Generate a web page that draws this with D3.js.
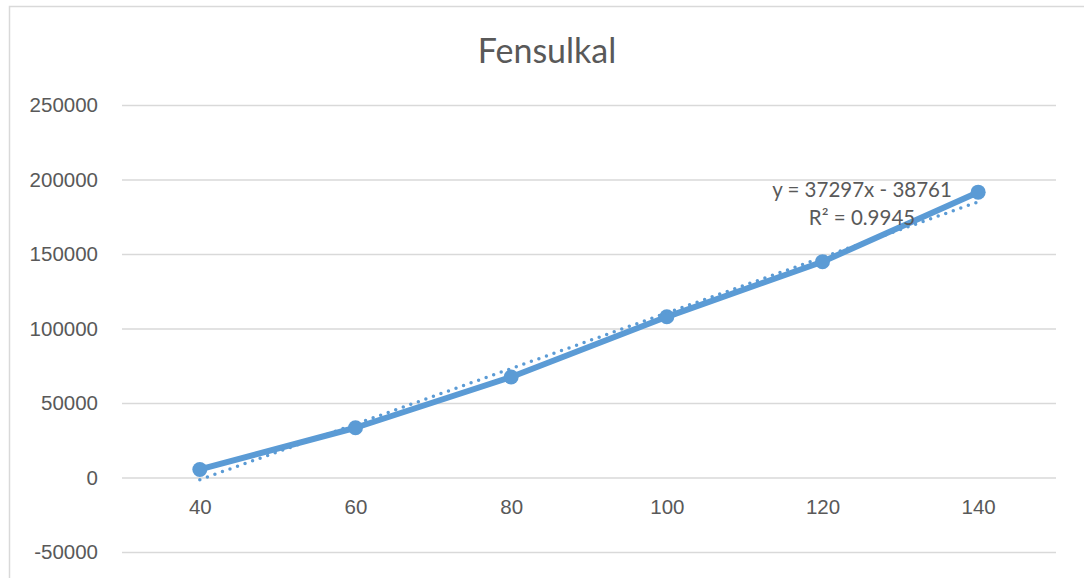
<!DOCTYPE html>
<html>
<head>
<meta charset="utf-8">
<script src="https://cdn.jsdelivr.net/npm/d3@7"></script>
<style>
  html, body { margin: 0; padding: 0; background: #fff; }
  svg { display: block; font-family: Lato, "Open Sans", sans-serif; }
</style>
</head>
<body>
<svg id="chart" width="1084" height="578"></svg>
<script>
// Concentration levels and measured response
const categories = [40, 60, 80, 100, 120, 140];
const values = [5400, 33400, 67450, 107850, 144800, 191500];
const yTicks = [-50000, 0, 50000, 100000, 150000, 200000, 250000];

// Linear trendline (x = point index 1..n)
const trendSlope = 37297;
const trendIntercept = -38761;
const trendR2 = 0.9945;

const chartTitle = "Fensulkal";

const svg = d3.select("#chart");
const W = 1084, H = 578;
const plot = { left: 122, right: 1056, top: 105, bottom: 552 };
const textColor = "#595959";
const gridColor = "#D9D9D9";
const seriesColor = "#5B9BD5";

// Chart frame
svg.append("rect")
  .attr("x", 9.5).attr("y", 6.5)
  .attr("width", W + 20).attr("height", H + 20)
  .attr("fill", "#fff")
  .attr("stroke", gridColor).attr("stroke-width", 1.5);

const x = d3.scalePoint()
  .domain(categories)
  .range([plot.left, plot.right])
  .padding(0.5);

const y = d3.scaleLinear()
  .domain([-50000, 250000])
  .range([plot.bottom, plot.top]);

// Horizontal gridlines
const yAxis = d3.axisLeft(y)
  .tickValues(yTicks)
  .tickSize(-(plot.right - plot.left))
  .tickPadding(24)
  .tickFormat(d => String(d));

const gy = svg.append("g")
  .attr("transform", `translate(${plot.left},0)`)
  .call(yAxis);
gy.select(".domain").remove();
gy.selectAll(".tick line")
  .attr("stroke", gridColor).attr("stroke-width", 1.5);
gy.selectAll(".tick text")
  .attr("fill", textColor)
  .attr("font-size", 20.5);

// Category axis labels, placed under the zero line
const xAxis = d3.axisBottom(x).tickSize(0).tickPadding(22);
const gx = svg.append("g")
  .attr("transform", `translate(0,${y(0)})`)
  .call(xAxis);
gx.select(".domain").remove();
gx.selectAll(".tick text")
  .attr("fill", textColor)
  .attr("font-size", 20.5);

// Title
svg.append("text")
  .attr("x", 547)
  .attr("y", 63)
  .attr("text-anchor", "middle")
  .attr("fill", textColor)
  .attr("font-size", 34)
  .text(chartTitle);

const pts = categories.map((c, i) => ({ c, v: values[i] }));

// Data series
const line = d3.line().x(d => x(d.c)).y(d => y(d.v));
svg.append("path")
  .datum(pts)
  .attr("fill", "none")
  .attr("stroke", seriesColor)
  .attr("stroke-width", 6)
  .attr("stroke-linejoin", "round")
  .attr("stroke-linecap", "round")
  .attr("d", line);

svg.selectAll("circle.marker")
  .data(pts)
  .join("circle")
  .attr("class", "marker")
  .attr("cx", d => x(d.c))
  .attr("cy", d => y(d.v))
  .attr("r", 7.5)
  .attr("fill", seriesColor);

// Trendline from the fitted equation
const trendPts = categories.map((c, i) => ({ c, v: trendSlope * (i + 1) + trendIntercept }));
const trendEnds = [trendPts[0], trendPts[trendPts.length - 1]];
svg.append("path")
  .datum(trendEnds)
  .attr("fill", "none")
  .attr("stroke", seriesColor)
  .attr("stroke-width", 3.5)
  .attr("stroke-linecap", "round")
  .attr("stroke-dasharray", "0 8")
  .attr("d", line);

// Trendline equation label
const eq = svg.append("text")
  .attr("x", 862)
  .attr("text-anchor", "middle")
  .attr("fill", textColor)
  .attr("font-size", 20.5);
eq.append("tspan")
  .attr("x", 862).attr("y", 197)
  .text(`y = ${trendSlope}x - ${Math.abs(trendIntercept)}`);
eq.append("tspan")
  .attr("x", 862).attr("y", 225)
  .text(`R² = ${trendR2}`);
</script>
</body>
</html>
